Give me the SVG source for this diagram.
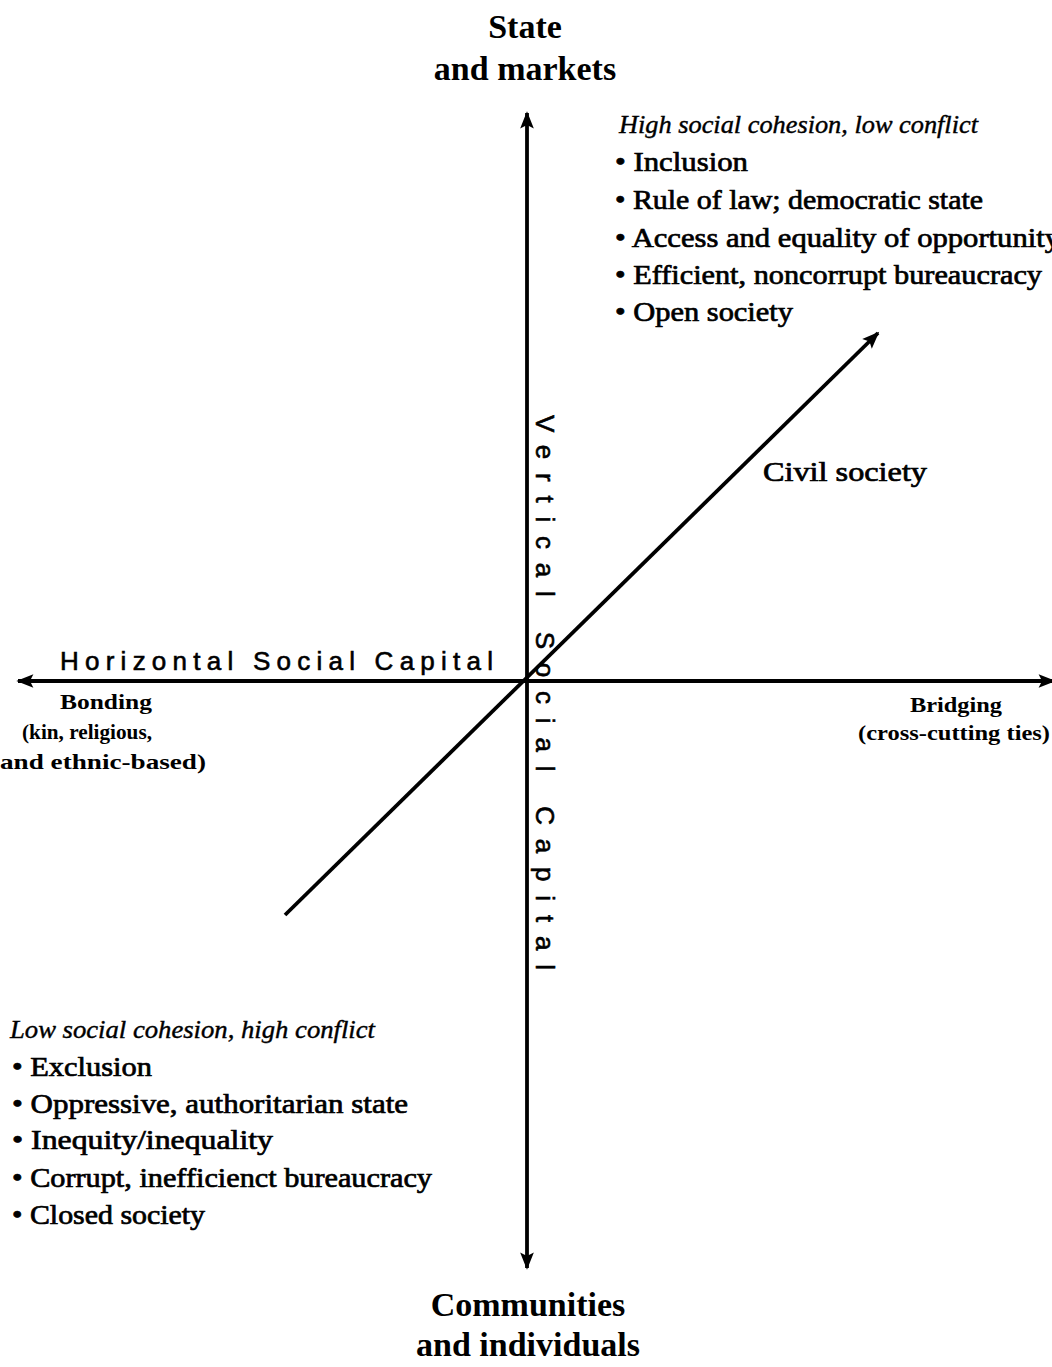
<svg xmlns="http://www.w3.org/2000/svg" width="1052" height="1367" viewBox="0 0 1052 1367">
<style>
.ax{stroke:#000;stroke-width:3.8;fill:none}
.t{font-family:"Liberation Serif","Times New Roman",serif;fill:#000}
.title{font-size:34px;font-weight:bold;text-anchor:middle}
.it{font-size:25px;font-style:italic;stroke:#000;stroke-width:0.4}
.b{font-size:27px;stroke:#000;stroke-width:0.7}
.sm{font-size:22px;font-weight:bold}
.lab{font-family:"Liberation Sans","DejaVu Sans",sans-serif;font-size:26px;fill:#000;stroke:#000;stroke-width:0.6}
</style>
<defs>
<marker id="ah" viewBox="0 0 10 10" refX="9" refY="5" markerWidth="7.5" markerHeight="4.5" orient="auto" markerUnits="strokeWidth">
<path d="M0,1 L10,5 L0,9 L2,5 Z" fill="#000"/>
</marker>
</defs>
<rect width="1052" height="1367" fill="#fff"/>
<g id="connectors">
<line class="ax" x1="527" y1="681" x2="527" y2="113" marker-end="url(#ah)"/>
<line class="ax" x1="527" y1="681" x2="527" y2="1268" marker-end="url(#ah)"/>
<line class="ax" x1="527" y1="681" x2="18" y2="681" marker-end="url(#ah)"/>
<line class="ax" x1="527" y1="681" x2="1054" y2="681" marker-end="url(#ah)"/>
<line class="ax" x1="285" y1="915" x2="878" y2="333" marker-end="url(#ah)"/>
</g>
<g id="top">
<text class="t title" x="525" y="38">State</text>
<text class="t title" x="525" y="80">and markets</text>
</g>
<g id="high">
<text class="t it" x="619" y="133" textLength="359" lengthAdjust="spacingAndGlyphs">High social cohesion, low conflict</text>
<text class="t b" x="615" y="171" textLength="133" lengthAdjust="spacingAndGlyphs">• Inclusion</text>
<text class="t b" x="615" y="209" textLength="368" lengthAdjust="spacingAndGlyphs">• Rule of law; democratic state</text>
<text class="t b" x="615" y="247" textLength="445" lengthAdjust="spacingAndGlyphs">• Access and equality of opportunity</text>
<text class="t b" x="615" y="284" textLength="427" lengthAdjust="spacingAndGlyphs">• Efficient, noncorrupt bureaucracy</text>
<text class="t b" x="615" y="321" textLength="178" lengthAdjust="spacingAndGlyphs">• Open society</text>
</g>
<g id="civil">
<text class="t b" x="763" y="481" textLength="164" lengthAdjust="spacingAndGlyphs">Civil society</text>
</g>
<g id="horizontal">
<text class="lab" x="60" y="670" textLength="433" lengthAdjust="spacing">Horizontal Social Capital</text>
</g>
<g id="bonding">
<text class="t sm" x="60" y="709" textLength="92" lengthAdjust="spacingAndGlyphs">Bonding</text>
<text class="t sm" x="22" y="739" textLength="130" lengthAdjust="spacingAndGlyphs">(kin, religious,</text>
<text class="t sm" x="0" y="769" textLength="206" lengthAdjust="spacingAndGlyphs">and ethnic-based)</text>
</g>
<g id="bridging">
<text class="t sm" x="910" y="712" textLength="92" lengthAdjust="spacingAndGlyphs">Bridging</text>
<text class="t sm" x="858" y="740" textLength="192" lengthAdjust="spacingAndGlyphs">(cross-cutting ties)</text>
</g>
<g id="vertical">
<text class="lab" transform="translate(536,415) rotate(90)" x="0" y="0" textLength="555" lengthAdjust="spacing">Vertical Social Capital</text>
</g>
<g id="low">
<text class="t it" x="10" y="1038" textLength="365" lengthAdjust="spacingAndGlyphs">Low social cohesion, high conflict</text>
<text class="t b" x="12" y="1076" textLength="140" lengthAdjust="spacingAndGlyphs">• Exclusion</text>
<text class="t b" x="12" y="1113" textLength="396" lengthAdjust="spacingAndGlyphs">• Oppressive, authoritarian state</text>
<text class="t b" x="12" y="1149" textLength="261" lengthAdjust="spacingAndGlyphs">• Inequity/inequality</text>
<text class="t b" x="12" y="1187" textLength="420" lengthAdjust="spacingAndGlyphs">• Corrupt, inefficienct bureaucracy</text>
<text class="t b" x="12" y="1224" textLength="193" lengthAdjust="spacingAndGlyphs">• Closed society</text>
</g>
<g id="bottom">
<text class="t title" x="528" y="1316">Communities</text>
<text class="t title" x="528" y="1356">and individuals</text>
</g>
</svg>
